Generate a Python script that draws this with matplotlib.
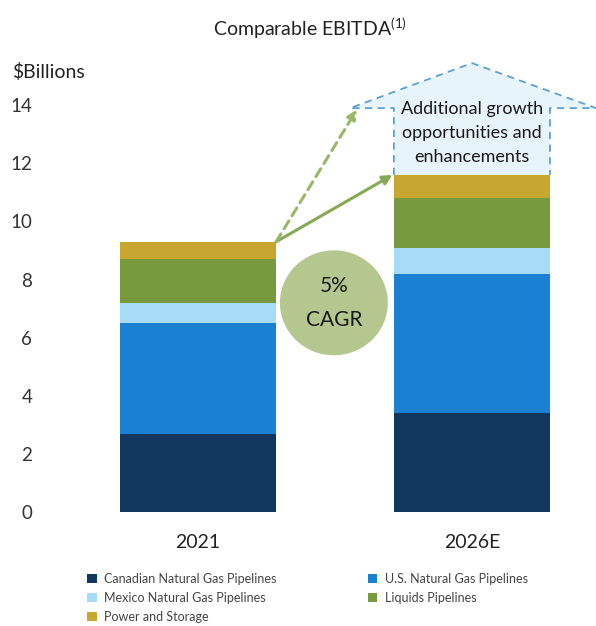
import matplotlib.pyplot as plt
from matplotlib.patches import Patch, Polygon, Ellipse

plt.rcParams["font.family"] = ["Lato", "DejaVu Sans"]
plt.rcParams["mathtext.default"] = "regular"

years = ["2021", "2026E"]
segments = [
    "Canadian Natural Gas Pipelines",
    "U.S. Natural Gas Pipelines",
    "Mexico Natural Gas Pipelines",
    "Liquids Pipelines",
    "Power and Storage",
]
canadian = [2.7, 3.4]
us_gas = [3.8, 4.8]
mexico = [0.7, 0.9]
liquids = [1.5, 1.7]
power = [0.6, 0.8]
colors = ["#12375f", "#1a80d2", "#a6dcf6", "#789a3e", "#c8a731"]

W, H = 596, 626
fig = plt.figure(figsize=(W / 100, H / 100), dpi=100)

# axes box in pixel terms: x 60..596, y 50..512 (zero line)
ax = fig.add_axes([60 / W, 1 - 512 / H, (596 - 60) / W, (512 - 50) / H])
ax.set_xlim(-0.504, 1.453)
ax.set_ylim(0, 15.9)

x = [0, 1]
width = 0.57
bottom = [0, 0]
for vals, col in zip([canadian, us_gas, mexico, liquids, power], colors):
    ax.bar(x, vals, width, bottom=bottom, color=col, edgecolor="none", zorder=2)
    bottom = [b + v for b, v in zip(bottom, vals)]
tot0, tot1 = bottom

# dashed "house" for additional growth on top of the 2026E bar
eave = 13.9
left_w, right_w = 1 - width / 2, 1 + width / 2
house = [(left_w, tot1), (left_w, eave), (0.555, eave), (1.0, 15.45),
         (1.453, eave), (right_w, eave), (right_w, tot1)]
ax.add_patch(Polygon(house, closed=False, facecolor="#e7f4fb",
                     edgecolor="#5d9fd6", linestyle=(0, (4, 3)), lw=1.3,
                     clip_on=False, zorder=1))
ax.text(1.0, 13.05, "Additional growth\nopportunities and\nenhancements",
        ha="center", va="center", fontsize=13, color="#1a1a1a",
        linespacing=1.6, zorder=3)

# growth arrows from the 2021 bar
start = (width / 2, tot0)
ax.annotate("", xy=(left_w - 0.005, tot1), xytext=start,
            arrowprops=dict(arrowstyle="-|>", color="#86a955", lw=2.2,
                            mutation_scale=14, shrinkA=0, shrinkB=0), zorder=3)
ax.annotate("", xy=(0.58, eave - 0.05), xytext=start,
            arrowprops=dict(arrowstyle="-|>", color="#98b867", lw=2.2,
                            linestyle=(0, (3, 2)), mutation_scale=14,
                            shrinkA=0, shrinkB=0), zorder=3)

# CAGR badge
ax.add_patch(Ellipse((0.496, 7.2), 108 / 274, 105 / 29.07,
                     facecolor="#b4c78e", edgecolor="none", zorder=3))
ax.text(0.496, 7.2, "5%\nCAGR", ha="center", va="center", fontsize=15,
        color="#1a1a1a", linespacing=1.85, zorder=4)

ax.set_yticks(range(0, 15, 2))
ax.set_xticks(x)
ax.set_xticklabels(years)
ax.tick_params(axis="y", length=0, pad=20, labelsize=13.5, labelcolor="#333333")
ax.tick_params(axis="x", length=0, pad=16, labelsize=14, labelcolor="#222222")
for s in ax.spines.values():
    s.set_visible(False)

fig.text(310 / W, 1 - 28 / H, "Comparable EBITDA$^{(1)}$", ha="center",
         va="center", fontsize=14, color="#222222")
fig.text(12 / W, 1 - 72 / H, "$Billions", ha="left", va="center",
         fontsize=14, color="#222222")

order = [0, 2, 4, 1, 3]
handles = [Patch(facecolor=colors[i], edgecolor="none") for i in order]
labels = [segments[i] for i in order]
fig.legend(handles, labels, loc="upper left", bbox_to_anchor=(76 / W, 1 - 562 / H),
           ncol=2, frameon=False, fontsize=9, handlelength=0.75, handleheight=0.75,
           handletextpad=0.6, columnspacing=7.3, labelspacing=0.55,
           labelcolor="#444444")

fig.savefig("out.png", dpi=100)
